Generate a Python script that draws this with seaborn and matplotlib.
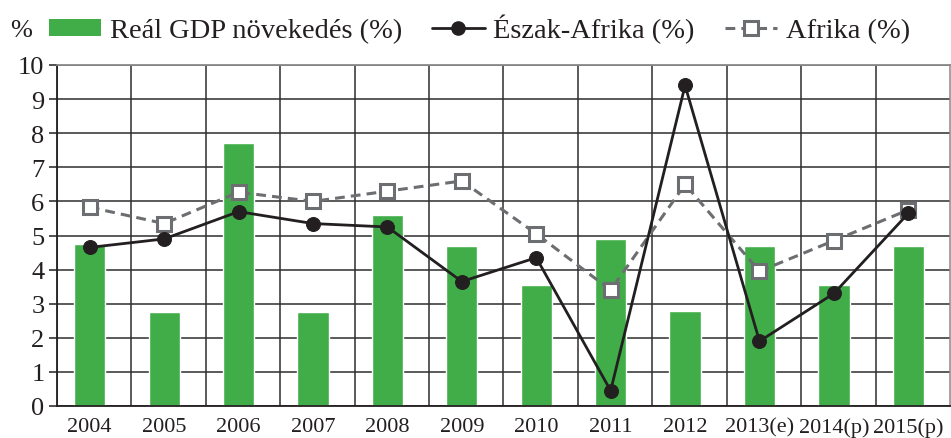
import numpy as np
import pandas as pd
import matplotlib
matplotlib.use("Agg")
import matplotlib.pyplot as plt
import seaborn as sns
from matplotlib.legend_handler import HandlerLine2D
from matplotlib.lines import Line2D
from matplotlib.patches import Patch

years = ["2004", "2005", "2006", "2007", "2008", "2009", "2010", "2011",
         "2012", "2013(e)", "2014(p)", "2015(p)"]
gdp_growth = [4.75, 2.75, 7.7, 2.75, 5.6, 4.7, 3.55, 4.9, 2.8, 4.7, 3.55, 4.7]
north_africa = [4.65, 4.9, 5.7, 5.35, 5.25, 3.65, 4.35, 0.45, 9.4, 1.9, 3.3, 5.65]
africa = [5.83, 5.35, 6.27, 6.0, 6.3, 6.6, 5.05, 3.4, 6.5, 3.95, 4.85, 5.75]

label_bar = "Reál GDP növekedés (%)"
label_na = "Észak-Afrika (%)"
label_af = "Afrika (%)"

df = pd.DataFrame({"year": years, "gdp": gdp_growth,
                   "na": north_africa, "af": africa})

sns.set_theme(style="white")
plt.rcParams["font.family"] = ["Liberation Serif", "DejaVu Serif"]

GREEN = "#41ad49"
BLACK = "#231f20"
GRAY = "#6d6e71"

fig = plt.figure(figsize=(9.51, 4.39), dpi=100)
ax = fig.add_axes([57 / 951, 1 - 407 / 439, (950 - 57) / 951, (407 - 66) / 439])

sns.barplot(data=df, x="year", y="gdp", order=years, color=GREEN,
            saturation=1, width=0.42, ax=ax, zorder=2)
sns.lineplot(data=df, x="year", y="af", sort=False, ax=ax, color=GRAY,
             linewidth=2.2, linestyle=(0, (3.2, 2.0)), marker="s",
             markersize=10, markerfacecolor="white", markeredgecolor=GRAY,
             markeredgewidth=2.2, zorder=3)
sns.lineplot(data=df, x="year", y="na", sort=False, ax=ax, color=BLACK,
             linewidth=2.0, marker="o", markersize=10,
             markerfacecolor=BLACK, markeredgecolor=BLACK, zorder=4)

ax.set_ylim(0, 10)
ax.set_xlim(-0.44, len(years) - 0.44)
ax.set_yticks(range(0, 11))
ax.set_xticks(range(len(years)))
ax.set_xticklabels(years)
ax.set_xticks(np.arange(len(years)) - 0.44, minor=True)
ax.set_xlabel("")
ax.set_ylabel("")
ax.set_axisbelow(True)
ax.grid(axis="y", which="major", color="#2e2e2e", linewidth=1.1)
ax.grid(axis="x", which="minor", color="#2e2e2e", linewidth=1.1)
ax.grid(axis="x", which="major", visible=False)
ax.tick_params(axis="y", which="major", left=True, length=6, width=1.1,
               color=BLACK, labelsize=19, pad=3, labelcolor=BLACK)
ax.tick_params(axis="x", which="major", bottom=False, labelsize=16,
               pad=2, labelcolor=BLACK)
ax.tick_params(axis="x", which="minor", bottom=False)
for s in ["left", "bottom"]:
    ax.spines[s].set_color(BLACK)
    ax.spines[s].set_linewidth(1.3)
ax.spines["top"].set_color("#8a8a8a")
ax.spines["top"].set_linewidth(1.3)
ax.spines["right"].set_color("#8a8a8a")
ax.spines["right"].set_linewidth(1.1)
if ax.get_legend() is not None:
    ax.get_legend().remove()


class LeftMarkerHandler(HandlerLine2D):
    def get_xdata(self, legend, xdescent, ydescent, width, height, fontsize):
        xdata = np.array([-xdescent, -xdescent + width])
        return xdata, np.array([-xdescent + 0.5 * fontsize * 0.45])


h_bar = Patch(facecolor=GREEN, edgecolor="none")
h_na = Line2D([], [], color=BLACK, linewidth=2.0, marker="o", markersize=9.5,
              markerfacecolor=BLACK)
h_af = Line2D([], [], color=GRAY, linewidth=2.2, linestyle=(0, (3.2, 2.0)),
              marker="s", markersize=9.5, markerfacecolor="white",
              markeredgecolor=GRAY, markeredgewidth=2.2)
fig.legend([h_bar, h_na, h_af], [label_bar, label_na, label_af],
           loc="center", bbox_to_anchor=(0.504, 0.932), ncol=3, frameon=False,
           fontsize=20.5, handlelength=1.85, handleheight=0.55,
           handletextpad=0.3, columnspacing=1.05, borderaxespad=0,
           handler_map={Line2D: LeftMarkerHandler()}, labelcolor=BLACK)

fig.text(21 / 951, 1 - 31 / 439, "%", fontsize=19, color=BLACK,
         ha="center", va="center")

fig.savefig("out.png", dpi=100)
